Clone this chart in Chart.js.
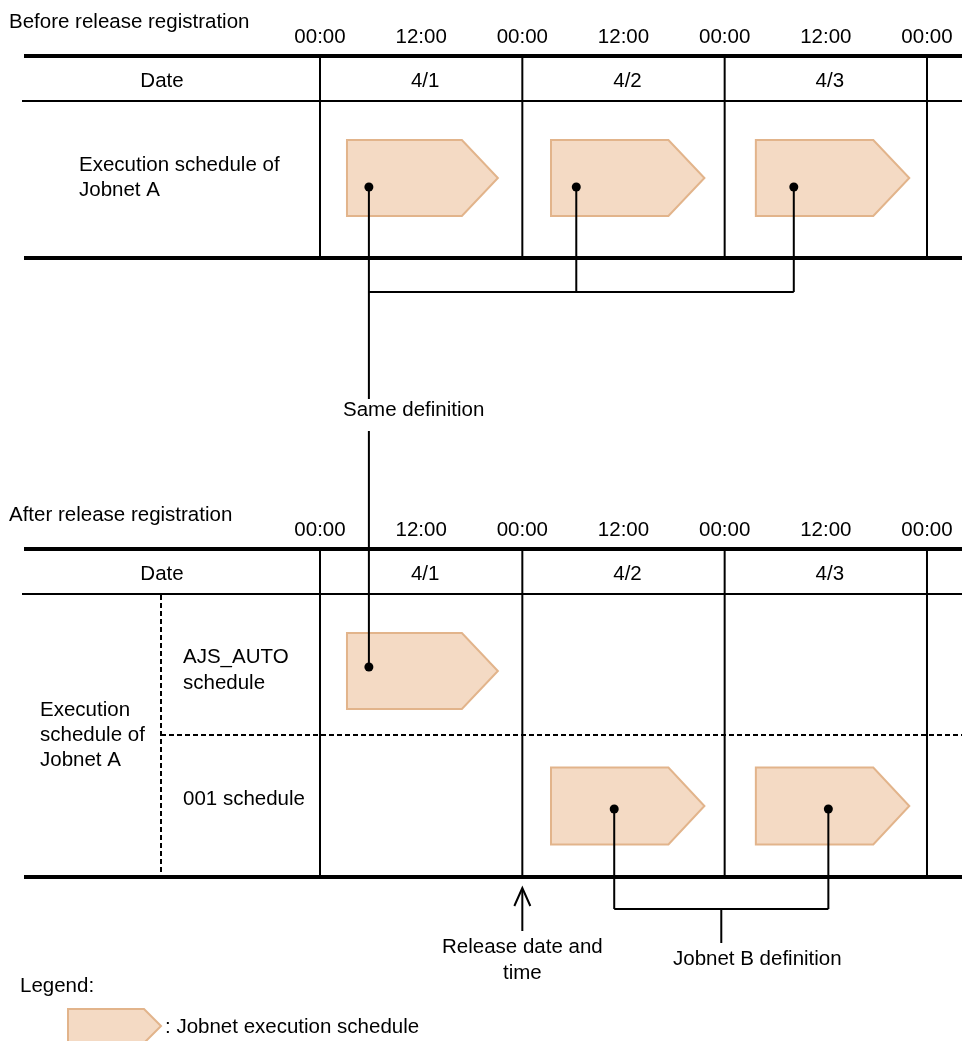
<!DOCTYPE html>
<html>
<head>
<meta charset="utf-8">
<title>Release registration schedule</title>
<script src="https://cdn.jsdelivr.net/npm/chart.js@4.4.1/dist/chart.umd.min.js"></script>
<style>
	body { margin: 0; background: #fff; }
	#mycanvas { display: block; }
</style>
</head>
<body>
<canvas id="mycanvas" width="962" height="1041"></canvas>
<script>
// ** Jobnet A schedule before / after release registration

// all times are hours counted from 4/1 00:00
var dayLabels = ['4/1', '4/2', '4/3'];
var dayStarts = [0, 24, 48, 72];
var timeTicks = [0, 12, 24, 36, 48, 60, 72];
var timeLabels = ['00:00', '12:00', '00:00', '12:00', '00:00', '12:00', '00:00'];

var beforeStart = [3.2, 27.4, 51.7];
var beforeEnd = [21.1, 45.6, 69.9];
var beforeDot = [5.8, 30.4, 56.2];

var autoStart = [3.2];
var autoEnd = [21.1];
var autoDot = [5.8];

var sched001Start = [27.4, 51.7];
var sched001End = [45.6, 69.9];
var sched001Dot = [34.9, 60.3];

var releaseHour = 24;

// layout (y values are in the page's own row scale)
var PX_PER_HOUR = 202.33 / 24;
var X_MIN = -320 / PX_PER_HOUR;
var X_MAX = X_MIN + 962 / PX_PER_HOUR;
var FONT = '20.5px "Liberation Sans", Arial, sans-serif';
var BOX_FILL = '#f4dac4';
var BOX_EDGE = '#e2b48b';

var panels = [
	{ title: 'Before release registration', top: 56, date: 101, bottom: 258 },
	{ title: 'After release registration', top: 549, date: 594, bottom: 877 }
];
var rowBefore = { mid: 178, dot: 187 };
var rowAuto = { mid: 671, dot: 667 };
var row001 = { mid: 806, dot: 809 };
var bracketTop = 292, bracketLow = 909, bracketLowEnd = 943;

function seg(x0, y0, x1, y1) {
	return {
		type: 'line', showLine: true, pointRadius: 0, borderWidth: 2,
		borderColor: '#000', fill: false,
		data: [{ x: x0, y: y0 }, { x: x1, y: y1 }]
	};
}

var datasets = [];
// "Same definition" bracket
for (var i in beforeDot) {
	datasets.push(seg(beforeDot[i], rowBefore.dot, beforeDot[i], bracketTop));
}
datasets.push(seg(beforeDot[0], bracketTop, beforeDot[beforeDot.length - 1], bracketTop));
datasets.push(seg(beforeDot[0], bracketTop, beforeDot[0], 399));
datasets.push(seg(autoDot[0], 431, autoDot[0], rowAuto.dot));
// "Jobnet B definition" bracket
for (var j in sched001Dot) {
	datasets.push(seg(sched001Dot[j], row001.dot, sched001Dot[j], bracketLow));
}
datasets.push(seg(sched001Dot[0], bracketLow, sched001Dot[1], bracketLow));
var midB = (sched001Dot[0] + sched001Dot[1]) / 2;
datasets.push(seg(midB, bracketLow, midB, bracketLowEnd));
// release arrow shaft
datasets.push(seg(releaseHour, 889, releaseHour, 931));

// dots
var dots = [];
beforeDot.forEach(function(h) { dots.push({ x: h, y: rowBefore.dot }); });
autoDot.forEach(function(h) { dots.push({ x: h, y: rowAuto.dot }); });
sched001Dot.forEach(function(h) { dots.push({ x: h, y: row001.dot }); });
datasets.push({
	type: 'scatter', data: dots, pointRadius: 4.5,
	backgroundColor: '#000', borderColor: '#000', borderWidth: 0
});

function pentagon(ctx, x0, x1, yc, half, notch) {
	ctx.beginPath();
	ctx.moveTo(x0, yc - half);
	ctx.lineTo(x1 - notch, yc - half);
	ctx.lineTo(x1, yc);
	ctx.lineTo(x1 - notch, yc + half);
	ctx.lineTo(x0, yc + half);
	ctx.closePath();
	ctx.fillStyle = BOX_FILL;
	ctx.fill();
	ctx.strokeStyle = BOX_EDGE;
	ctx.lineWidth = 2;
	ctx.stroke();
}

function line(ctx, x0, y0, x1, y1, w, dash) {
	ctx.save();
	ctx.beginPath();
	ctx.lineWidth = w;
	ctx.strokeStyle = '#000';
	ctx.setLineDash(dash || []);
	ctx.moveTo(x0, y0);
	ctx.lineTo(x1, y1);
	ctx.stroke();
	ctx.restore();
}

var diagram = {
	id: 'diagram',
	beforeDraw: function(chart) {
		var ctx = chart.ctx;
		ctx.save();
		ctx.fillStyle = '#fff';
		ctx.fillRect(0, 0, chart.width, chart.height);
		ctx.restore();
	},
	beforeDatasetsDraw: function(chart) {
		var ctx = chart.ctx;
		var X = function(h) { return chart.scales.x.getPixelForValue(h); };
		var Y = function(v) { return chart.scales.y.getPixelForValue(v); };
		var right = chart.chartArea.right;

		panels.forEach(function(p) {
			line(ctx, 24, Y(p.top), right, Y(p.top), 4);
			line(ctx, 22, Y(p.date), right, Y(p.date), 2);
			line(ctx, 24, Y(p.bottom), right, Y(p.bottom), 4);
			dayStarts.forEach(function(d) {
				line(ctx, X(d), Y(p.top) + 2, X(d), Y(p.bottom) - 2, 2);
			});
		});
		// sub rows after release registration
		line(ctx, 161, Y(panels[1].date) + 1, 161, Y(panels[1].bottom) - 2, 2, [5, 3]);
		line(ctx, 161, Y(735), right, Y(735), 2, [5, 3]);

		for (var i in beforeStart) {
			pentagon(ctx, X(beforeStart[i]), X(beforeEnd[i]), Y(rowBefore.mid), 38, 36);
		}
		for (var k in autoStart) {
			pentagon(ctx, X(autoStart[k]), X(autoEnd[k]), Y(rowAuto.mid), 38, 36);
		}
		for (var m in sched001Start) {
			pentagon(ctx, X(sched001Start[m]), X(sched001End[m]), Y(row001.mid), 38.5, 36);
		}

		// arrow head at release time
		var ax = X(releaseHour);
		ctx.save();
		ctx.beginPath();
		ctx.lineWidth = 2;
		ctx.strokeStyle = '#000';
		ctx.moveTo(ax - 8, Y(906));
		ctx.lineTo(ax, Y(888));
		ctx.lineTo(ax + 8, Y(906));
		ctx.stroke();
		ctx.restore();

		// legend swatch
		pentagon(ctx, 68, 161, Y(1026), 17, 17);
	},
	afterDraw: function(chart) {
		var ctx = chart.ctx;
		var X = function(h) { return chart.scales.x.getPixelForValue(h); };
		var Y = function(v) { return chart.scales.y.getPixelForValue(v); };
		ctx.save();
		ctx.font = FONT;
		ctx.fillStyle = '#000';
		ctx.textBaseline = 'alphabetic';

		function txt(s, x, y, align) {
			ctx.textAlign = align || 'left';
			ctx.fillText(s, x, Y(y));
		}

		panels.forEach(function(p) {
			txt(p.title, 9, p.top - 28);
			for (var i in timeTicks) {
				txt(timeLabels[i], X(timeTicks[i]), p.top - 13, 'center');
			}
			txt('Date', 162, p.top + 31, 'center');
			for (var d in dayLabels) {
				txt(dayLabels[d], X(dayStarts[d] + 12) + 4, p.top + 31, 'center');
			}
		});

		txt('Execution schedule of', 79, 171);
		txt('Jobnet A', 79, 196);

		txt('AJS_AUTO', 183, 663);
		txt('schedule', 183, 689);
		txt('Execution', 40, 716);
		txt('schedule of', 40, 741);
		txt('Jobnet A', 40, 766);
		txt('001 schedule', 183, 805);

		txt('Same definition', 343, 416);
		txt('Release date and', X(releaseHour), 953, 'center');
		txt('time', X(releaseHour), 979, 'center');
		txt('Jobnet B definition', 673, 965);

		txt('Legend:', 20, 992);
		txt(': Jobnet execution schedule', 165, 1033);
		ctx.restore();
	}
};

var ctx = document.getElementById('mycanvas');

var diagramChart = new Chart(ctx, {
	type: 'scatter',
	data: { datasets: datasets },
	options: {
		responsive: false,
		animation: false,
		events: [],
		layout: { padding: 0, autoPadding: false },
		scales: {
			x: { type: 'linear', min: X_MIN, max: X_MAX, display: false },
			y: { type: 'linear', min: 0, max: 1041, reverse: true, display: false }
		},
		plugins: {
			legend: { display: false },
			tooltip: { enabled: false },
			title: { display: false }
		}
	},
	plugins: [diagram]
});
</script>
</body>
</html>
